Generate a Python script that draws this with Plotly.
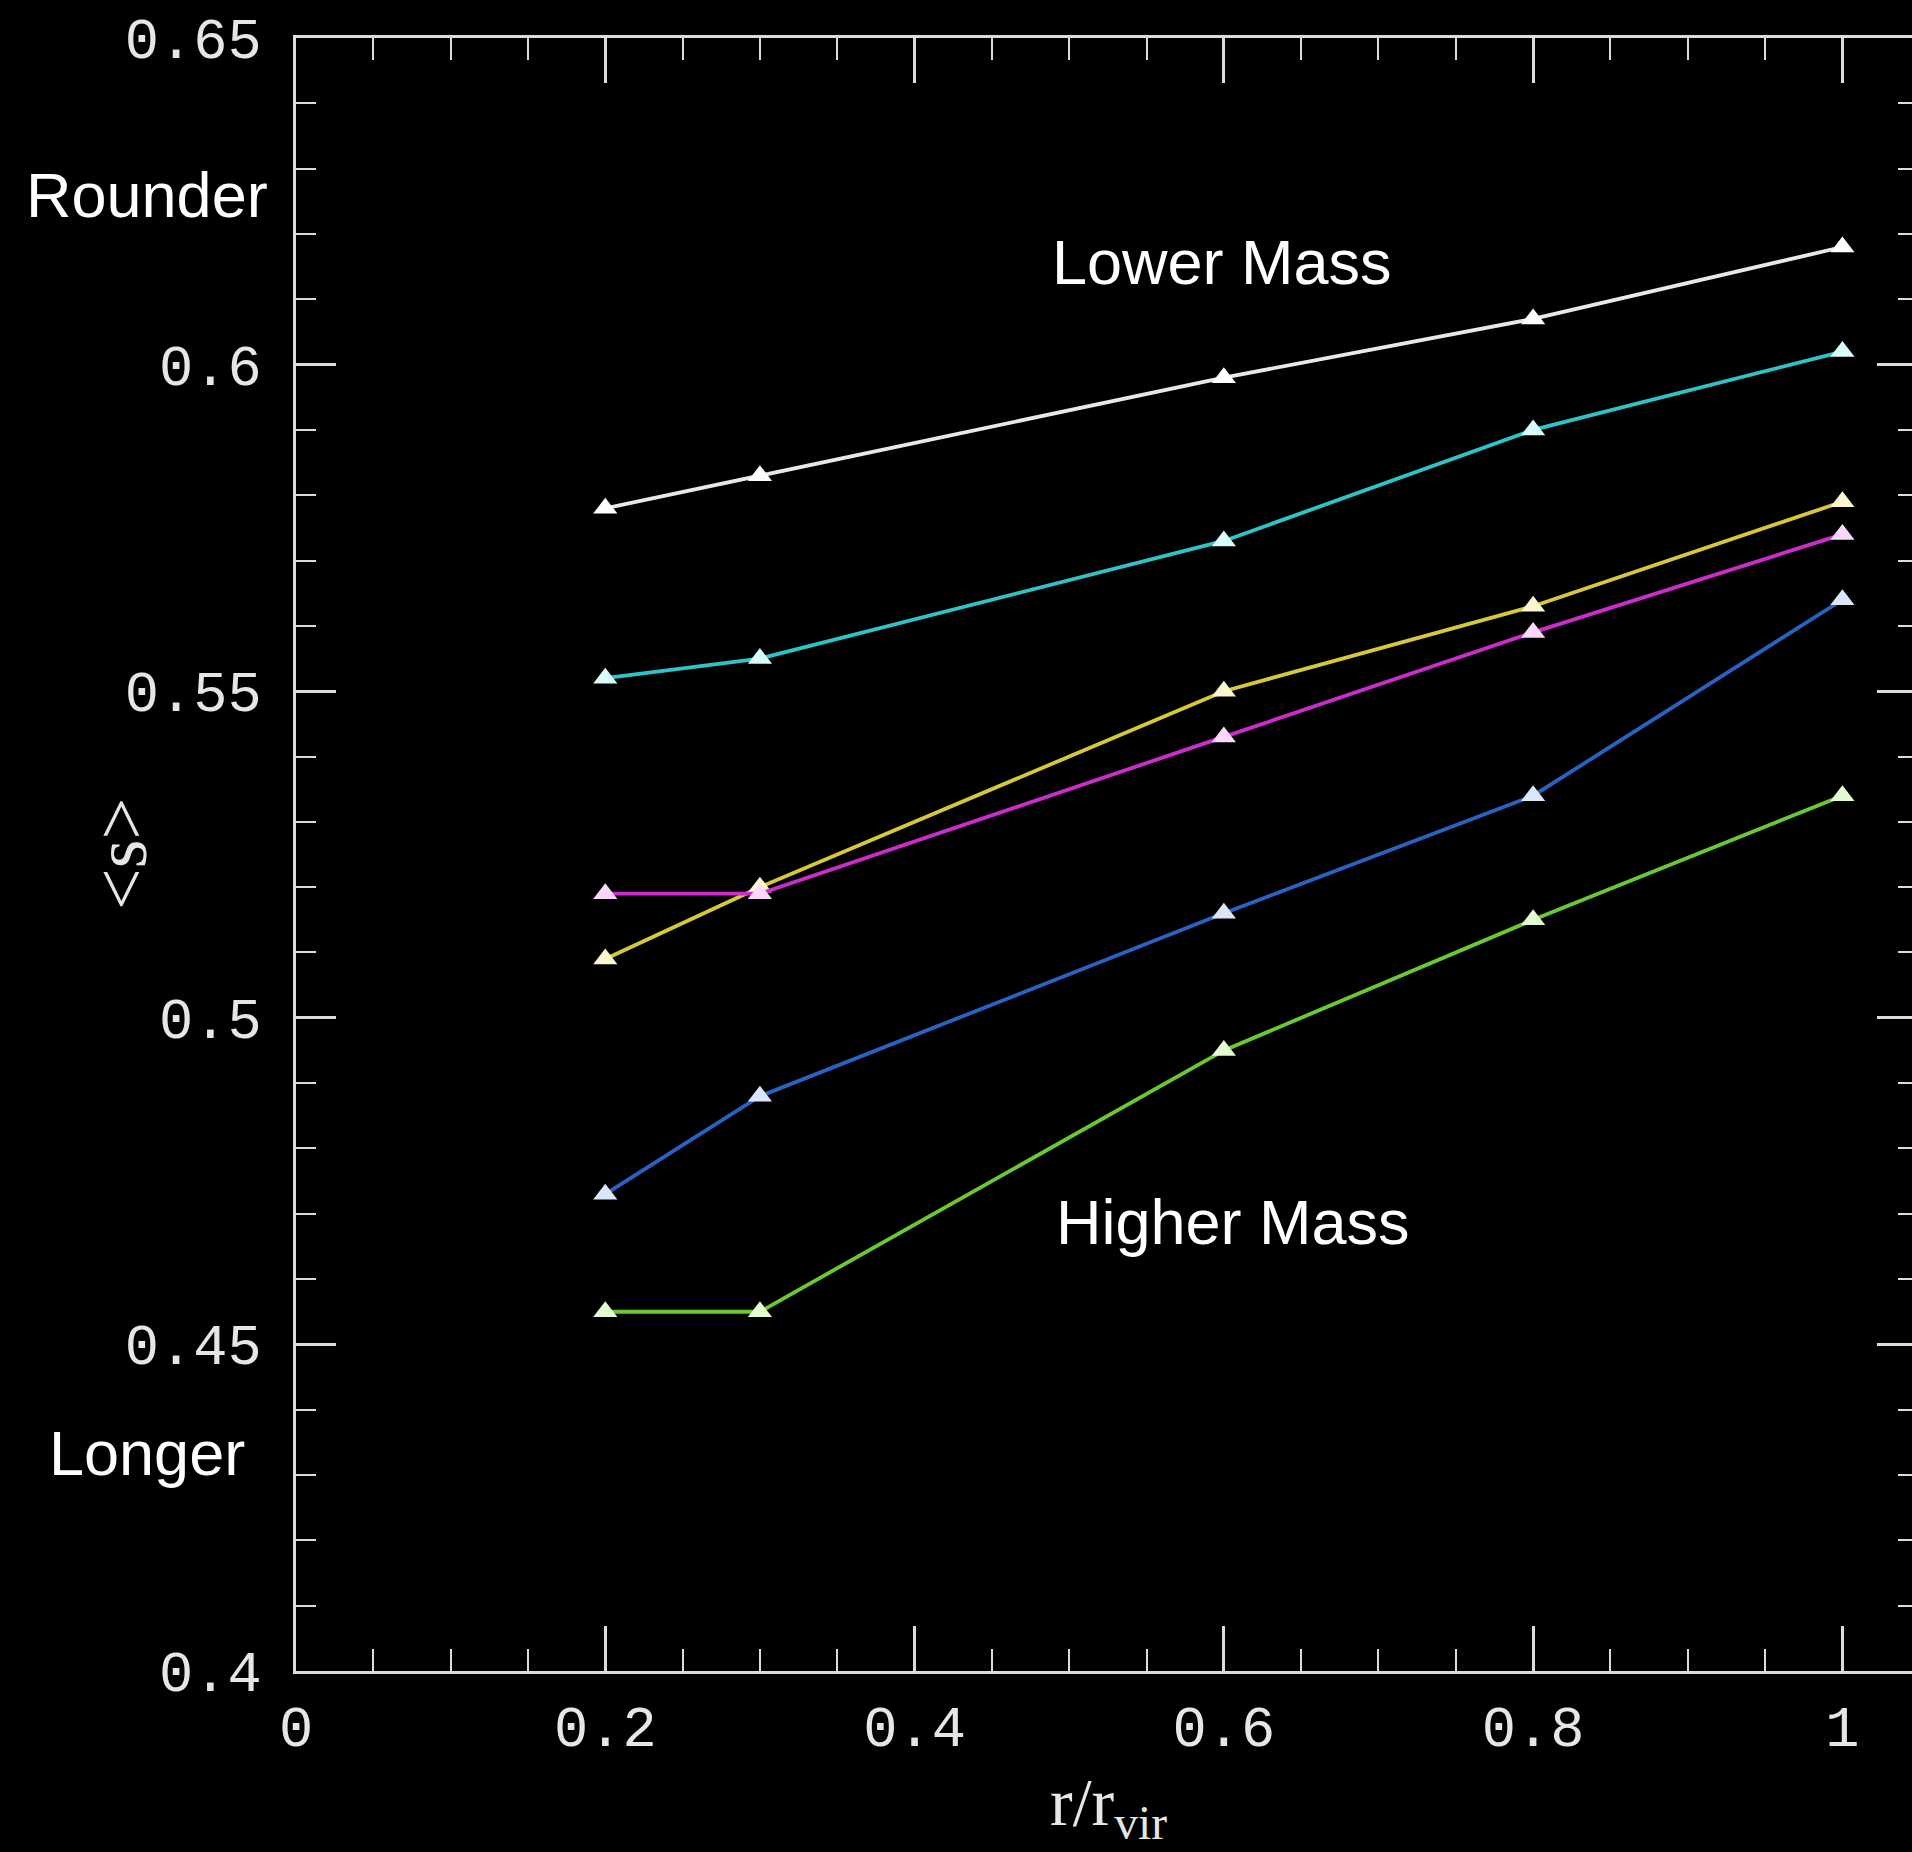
import plotly.graph_objects as go

# ---- data ----
r_over_rvir = [0.2, 0.3, 0.6, 0.8, 1.0]
s_white = [0.578, 0.583, 0.598, 0.607, 0.618]
s_cyan = [0.552, 0.555, 0.573, 0.590, 0.602]
s_yellow = [0.509, 0.520, 0.550, 0.563, 0.579]
s_magenta = [0.519, 0.519, 0.543, 0.559, 0.574]
s_blue = [0.473, 0.488, 0.516, 0.534, 0.564]
s_green = [0.455, 0.455, 0.495, 0.515, 0.534]

series = [
    (s_white, "#e8e8e8", "#ffffff"),
    (s_cyan, "#2fc3c8", "#d8fbfb"),
    (s_yellow, "#d6c83a", "#fbf6d0"),
    (s_magenta, "#cc2ccc", "#fbd8fb"),
    (s_blue, "#2a62c4", "#dbe6fb"),
    (s_green, "#6ac832", "#e3fbd2"),
]

AXC = "#dcdcdc"
TICKFONT = dict(family="Liberation Mono", size=57, color="#e6e6e6")

fig = go.Figure()
for ys, lc, mc in series:
    fig.add_trace(go.Scatter(
        x=r_over_rvir, y=ys, mode="lines+markers",
        line=dict(color=lc, width=3.8),
        marker=dict(symbol="triangle-up", size=21, color=mc,
                    line=dict(width=0)),
        showlegend=False, hoverinfo="skip",
    ))

# invisible trace so the right-hand tick axis is drawn
fig.add_trace(go.Scatter(x=[None], y=[None], yaxis="y2", showlegend=False,
                         hoverinfo="skip"))

fig.update_layout(
    width=1912, height=1852,
    paper_bgcolor="black", plot_bgcolor="black",
    margin=dict(l=296, r=0, t=38, b=181),
    xaxis=dict(
        range=[0, 1.045], dtick=0.2, tick0=0,
        showgrid=False, zeroline=False,
        showline=True, linecolor=AXC, linewidth=3, mirror="ticks",
        ticks="inside", ticklen=45, tickwidth=2.5, tickcolor=AXC,
        minor=dict(dtick=0.05, tick0=0, ticks="inside", ticklen=22,
                   tickwidth=2, tickcolor=AXC, showgrid=False),
        tickfont=TICKFONT, ticklabelstandoff=4,
    ),
    yaxis=dict(
        range=[0.4, 0.65], dtick=0.05, tick0=0.4,
        showgrid=False, zeroline=False,
        showline=True, linecolor=AXC, linewidth=3, mirror=False,
        ticks="inside", ticklen=40, tickwidth=2.5, tickcolor=AXC,
        minor=dict(dtick=0.01, tick0=0.4, ticks="inside", ticklen=20,
                   tickwidth=2, tickcolor=AXC, showgrid=False),
        tickfont=TICKFONT, ticklabelstandoff=20,
    ),
    yaxis2=dict(
        range=[0.4, 0.65], dtick=0.05, tick0=0.4, overlaying="y",
        side="right", anchor="x",
        showgrid=False, zeroline=False, showline=False,
        showticklabels=False,
        ticks="inside", ticklen=35, tickwidth=2.5, tickcolor=AXC,
        minor=dict(dtick=0.01, tick0=0.4, ticks="inside", ticklen=14,
                   tickwidth=2, tickcolor=AXC, showgrid=False),
    ),
)

W, H = 1912 - 296, 1852 - 38 - 181


def px(x):
    return (x - 296) / W


def py(y):
    return 1 - (y - 38) / H


# axis titles
fig.add_annotation(text="&lt;s&gt;", textangle=-90, x=px(121), y=py(854),
                   xref="paper", yref="paper", showarrow=False,
                   xanchor="center", yanchor="middle",
                   font=dict(family="Liberation Serif", size=74, color="#e6e6e6"))
fig.add_annotation(text="r/r<sub>vir</sub>", x=px(1108), y=py(1806),
                   xref="paper", yref="paper", showarrow=False,
                   xanchor="center", yanchor="middle",
                   font=dict(family="Liberation Serif", size=68, color="#e6e6e6"))

# labels
LAB = dict(family="Liberation Sans", size=63, color="white")
for txt, cx, cy in [("Rounder", 147, 195), ("Longer", 147, 1453),
                    ("Lower Mass", 1222, 262), ("Higher Mass", 1233, 1222)]:
    fig.add_annotation(text=txt, x=px(cx), y=py(cy), xref="paper", yref="paper",
                       showarrow=False, xanchor="center", yanchor="middle",
                       font=LAB)

fig.write_html("out.html")
